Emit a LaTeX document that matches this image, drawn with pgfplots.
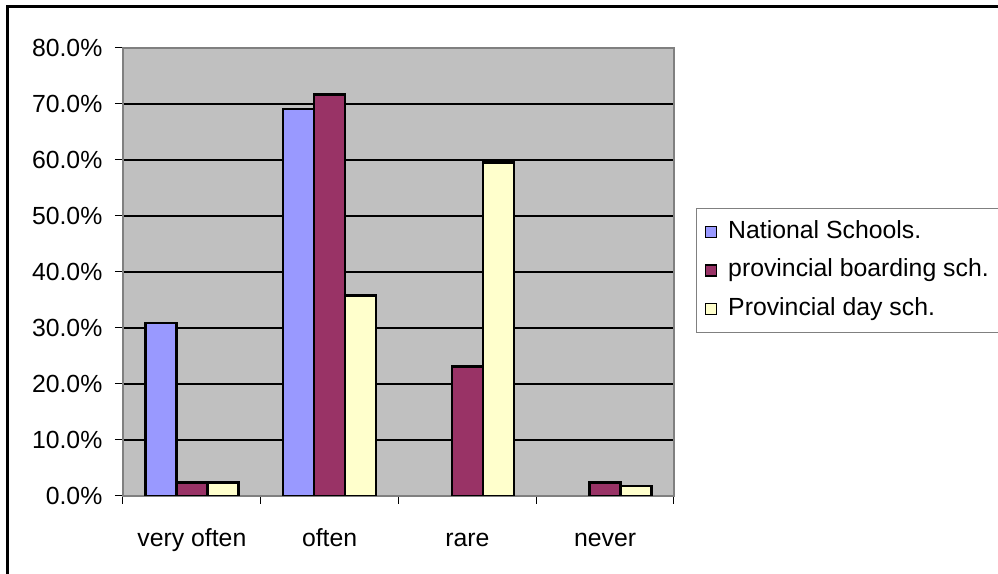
\documentclass[border=0pt]{standalone}
\usepackage{fontspec}
\setmainfont{Liberation Sans}
\usepackage{pgfplots}
\pgfplotsset{compat=1.18}
\definecolor{natc}{RGB}{153,153,255}
\definecolor{boac}{RGB}{153,51,102}
\definecolor{dayc}{RGB}{255,255,204}
\definecolor{bgc}{RGB}{192,192,192}
\definecolor{axc}{RGB}{128,128,128}
\begin{document}
\begin{tikzpicture}
\path[use as bounding box] (0,0) rectangle (499pt,287pt);
\fill[white] (0,0) rectangle (499pt,287pt);
\draw[black,line width=1.5pt] (3.5pt,-5pt) -- (3.5pt,283.5pt) -- (505pt,283.5pt);
\begin{axis}[
  at={(61.5pt,39pt)}, anchor=south west,
  scale only axis, width=275.5pt, height=224pt,
  font=\fontsize{12.4}{14.9}\selectfont,
  /pgf/number format/assume math mode=true,
  xmin=0, xmax=4, ymin=0, ymax=80,
  ybar=0pt, bar width=15.5pt,
  axis background/.style={fill=bgc},
  axis line style={draw=axc,line width=0.8pt},
  xtick={0,1,2,3,4},
  xticklabels={very often,often,rare,never},
  x tick label as interval,
  ytick={0,10,...,80},
  yticklabel={\pgfmathprintnumber[fixed,fixed zerofill,precision=1]{\tick}\%},
  tick align=outside, major tick length=4pt,
  tick style={draw=black,line width=0.5pt},
  xtick pos=bottom, ytick pos=left,
  ymajorgrids, grid style={black,line width=0.6pt},
  xticklabel style={yshift=-8.5pt, text height=9pt, text depth=2.6pt},
  yticklabel style={xshift=-2.8pt},
  legend style={at={(1.04,0.643)}, anchor=north west, draw=axc, line width=0.6pt,
    inner sep=4pt, row sep=3.6pt, column sep=3.5pt, fill=white,
    nodes={inner sep=2pt, text height=9pt, text depth=2.6pt},
    font=\fontsize{12.4}{14.9}\selectfont},
  legend cell align=left,
  legend image code/.code={\draw[#1,line width=0.8pt] (0pt,-2.75pt) rectangle (5.5pt,2.75pt);},
  every axis plot/.append style={draw=black,line width=1.3pt},
]
\addplot[fill=natc] coordinates {(0.5,30.9) (1.5,69.1)};
\addplot[fill=boac] coordinates {(0.5,2.4) (1.5,71.7) (2.5,23.1) (3.5,2.4)};
\addplot[fill=dayc] coordinates {(0.5,2.4) (1.5,35.8) (2.5,59.5) (3.5,1.8)};
\legend{National Schools.,provincial boarding sch.,Provincial day sch.}
\end{axis}
\end{tikzpicture}
\end{document}
